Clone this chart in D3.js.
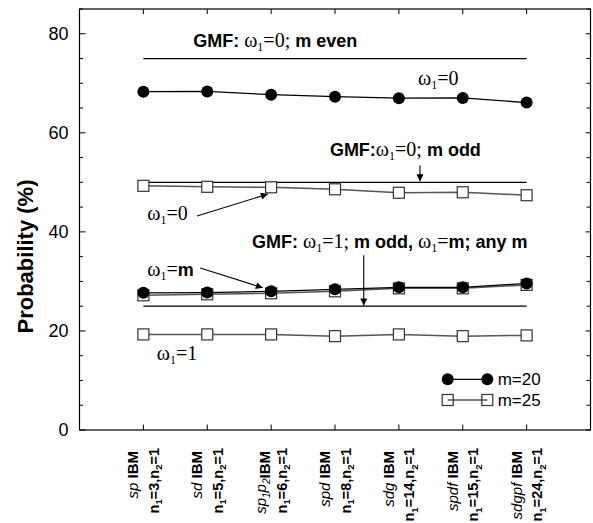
<!DOCTYPE html>
<html><head><meta charset="utf-8">
<script src="https://cdn.jsdelivr.net/npm/d3@7"></script>
<style>body{margin:0;background:#fff}</style></head>
<body>
<svg id="c" width="593" height="523"></svg>
<script>
// ---- data ----
const catItalic = [["sp"],["sd"],["sp","1","p","2"],["spd"],["sdg"],["spdf"],["sdgpf"]];
const n1Values = [3,5,6,8,14,15,24];
const n2Values = [1,1,1,1,1,1,1];
const xPos = [1,2,3,4,5,6,7];
const m20_w0 = [68.3,68.35,67.7,67.3,67.0,67.05,66.1];
const m20_wm = [27.7,27.75,28.0,28.4,28.8,28.8,29.6];
const m25_w0 = [49.3,49.1,49.0,48.6,47.9,48.0,47.4];
const m25_wm = [27.2,27.4,27.6,28.0,28.6,28.6,29.3];
const m25_w1 = [19.3,19.3,19.3,18.95,19.3,18.95,19.1];
const gmfLevels = [75,50,25];
const yTicks = [0,20,40,60,80];
const yMinor = d3.range(0,86,5);
const legendLabels = ["m=20","m=25"];

// ---- layout ----
const svg = d3.select("#c");
const L=79.5, R=590.5, T=9, B=430;
const x = d3.scaleLinear().domain([0,8]).range([L,R]);
const y = d3.scaleLinear().domain([0,85]).range([B,T]);
const SANS = "'Liberation Sans', Arial, Helvetica, sans-serif";
const SERIF = "'Liberation Serif', 'Times New Roman', serif";

// frame
svg.append("rect").attr("x",L).attr("y",T).attr("width",R-L).attr("height",B-T)
  .attr("fill","none").attr("stroke","#000").attr("stroke-width",1.2);

// minor/major ticks left & right
yMinor.forEach(v=>{
  const major = yTicks.includes(v);
  svg.append("line").attr("x1",L).attr("x2",L+(major?6:3.5)).attr("y1",y(v)).attr("y2",y(v)).attr("stroke","#000");
  svg.append("line").attr("x1",R).attr("x2",R-(major?5:4)).attr("y1",y(v)).attr("y2",y(v)).attr("stroke","#000");
});
// y labels via axis
const ya = svg.append("g").attr("transform",`translate(${L},0)`)
  .call(d3.axisLeft(y).tickValues(yTicks).tickSize(0).tickPadding(11));
ya.select(".domain").remove();
ya.selectAll("text").attr("font-family",SANS).attr("font-size",18).attr("fill","#000");

// x ticks bottom & top
xPos.forEach(v=>{
  svg.append("line").attr("x1",x(v)).attr("x2",x(v)).attr("y1",B).attr("y2",B-5.5).attr("stroke","#000");
  svg.append("line").attr("x1",x(v)).attr("x2",x(v)).attr("y1",T).attr("y2",T+5).attr("stroke","#000");
});

// y title
svg.append("text").attr("transform",`translate(33,${(B+T)/2+ 37}) rotate(-90)`)
  .attr("text-anchor","middle").attr("font-family",SANS).attr("font-weight","bold")
  .attr("font-size",22).text("Probability (%)");

// x category labels
xPos.forEach((v,i)=>{
  const g = svg.append("g").attr("transform",`translate(${x(v)},448) rotate(-90)`);
  const t1 = g.append("text").attr("x",-3).attr("y",-5).attr("text-anchor","end")
    .attr("font-family",SANS).attr("font-size",15);
  const parts = catItalic[i];
  if(parts.length===1){
    t1.append("tspan").attr("font-style","italic").text(parts[0]+" ");
  } else {
    t1.append("tspan").attr("font-style","italic").text(parts[0]);
    t1.append("tspan").attr("font-style","italic").attr("font-size",10).attr("dy",3.5).text(parts[1]);
    t1.append("tspan").attr("font-style","italic").attr("dy",-3.5).text(parts[2]);
    t1.append("tspan").attr("font-style","italic").attr("font-size",10).attr("dy",3.5).text(parts[3]);
    t1.append("tspan").attr("dy",-3.5).text("");
  }
  t1.append("tspan").attr("font-weight","bold").text("IBM");
  const t2 = g.append("text").attr("x",0).attr("y",15.5).attr("text-anchor","end")
    .attr("font-family",SANS).attr("font-size",14.5).attr("font-weight","bold");
  t2.append("tspan").text("n");
  t2.append("tspan").attr("font-size",9.5).attr("dy",3.5).text("1");
  t2.append("tspan").attr("dy",-3.5).text("="+n1Values[i]+",n");
  t2.append("tspan").attr("font-size",9.5).attr("dy",3.5).text("2");
  t2.append("tspan").attr("dy",-3.5).text("="+n2Values[i]);
});

// GMF reference lines
gmfLevels.forEach(v=>{
  svg.append("line").attr("x1",x(1)).attr("x2",x(7)).attr("y1",y(v)).attr("y2",y(v))
    .attr("stroke","#000").attr("stroke-width",1.2);
});

// series
const line = d3.line().x((d,i)=>x(xPos[i])).y(d=>y(d));
function squares(vals){
  svg.append("path").datum(vals).attr("d",line).attr("fill","none").attr("stroke","#555").attr("stroke-width",1.5);
  svg.selectAll(null).data(vals).enter().append("rect")
    .attr("x",(d,i)=>x(xPos[i])-5.5).attr("y",d=>y(d)-5.5).attr("width",11).attr("height",11)
    .attr("fill","#fff").attr("stroke","#333").attr("stroke-width",1.2);
}
function circles(vals){
  svg.append("path").datum(vals).attr("d",line).attr("fill","none").attr("stroke","#000").attr("stroke-width",1.3);
  svg.selectAll(null).data(vals).enter().append("circle")
    .attr("cx",(d,i)=>x(xPos[i])).attr("cy",d=>y(d)).attr("r",6).attr("fill","#000");
}
squares(m25_w0); squares(m25_wm); squares(m25_w1);
circles(m20_w0); circles(m20_wm);

// arrowhead
svg.append("defs").append("marker").attr("id","ah").attr("viewBox","0 0 10 10")
  .attr("refX",10).attr("refY",5).attr("markerWidth",9).attr("markerHeight",7)
  .attr("markerUnits","userSpaceOnUse").attr("orient","auto")
  .append("path").attr("d","M0,0L10,5L0,10z").attr("fill","#000");
function arrow(x1,y1,x2,y2){
  svg.append("line").attr("x1",x(x1)).attr("y1",y(y1)).attr("x2",x(x2)).attr("y2",y(y2))
    .attr("stroke","#000").attr("stroke-width",1.1).attr("marker-end","url(#ah)");
}

// rich text helper
function rich(xv,yv,parts){
  const t = svg.append("text").attr("x",x(xv)).attr("y",y(yv)).attr("font-size",18);
  let shifted=false;
  parts.forEach(([s,st])=>{
    const sp = t.append("tspan").text(s);
    if(st==="b") sp.attr("font-family",SANS).attr("font-weight","bold");
    if(st==="s") sp.attr("font-family",SERIF).attr("font-size",20);
    if(st==="sub") sp.attr("font-family",SERIF).attr("font-size",12);
    if(st==="sub"){ sp.attr("dy",4); shifted=true; }
    else if(shifted){ sp.attr("dy",-4); shifted=false; }
  });
  return t;
}

rich(1.78,77.4,[["GMF: ","b"],["ω","s"],["1","sub"],["=0;","s"],[" m even","b"]]);
rich(5.3,69.7,[["ω","s"],["1","sub"],["=0","s"]]);
rich(3.92,55.3,[["GMF:","b"],["ω","s"],["1","sub"],["=0;","s"],[" m odd","b"]]);
arrow(5.33,53.4,5.33,50.2);
rich(1.06,42.4,[["ω","s"],["1","sub"],["=0","s"]]);
arrow(1.84,43.2,2.95,47.65);
rich(2.7,36.7,[["GMF: ","b"],["ω","s"],["1","sub"],["=1;","s"],[" m odd, ","b"],["ω","s"],["1","sub"],["=","s"],["m; any m","b"]]);
arrow(4.45,35.3,4.45,25.15);
rich(1.06,31.15,[["ω","s"],["1","sub"],["=","s"],["m","b"]]);
arrow(1.89,32.7,2.87,28.7);
rich(1.21,14.1,[["ω","s"],["1","sub"],["=1","s"]]);

// legend
const lg = svg.append("g");
const lx1=447.7, lx2=487.3, ly=[379.3,400];
lg.append("line").attr("x1",lx1).attr("x2",lx2).attr("y1",ly[0]).attr("y2",ly[0]).attr("stroke","#000").attr("stroke-width",1.3);
[lx1,lx2].forEach(cx=>lg.append("circle").attr("cx",cx).attr("cy",ly[0]).attr("r",6).attr("fill","#000"));
lg.append("line").attr("x1",lx1).attr("x2",lx2).attr("y1",ly[1]).attr("y2",ly[1]).attr("stroke","#555").attr("stroke-width",1.5);
[lx1,lx2].forEach(cx=>lg.append("rect").attr("x",cx-5.5).attr("y",ly[1]-5.5).attr("width",11).attr("height",11).attr("fill","none").attr("stroke","#333").attr("stroke-width",1.2));
legendLabels.forEach((s,i)=>lg.append("text").attr("x",497.7).attr("y",ly[i]+6).attr("font-family",SANS).attr("font-size",17).text(s));
</script>
</body></html>
